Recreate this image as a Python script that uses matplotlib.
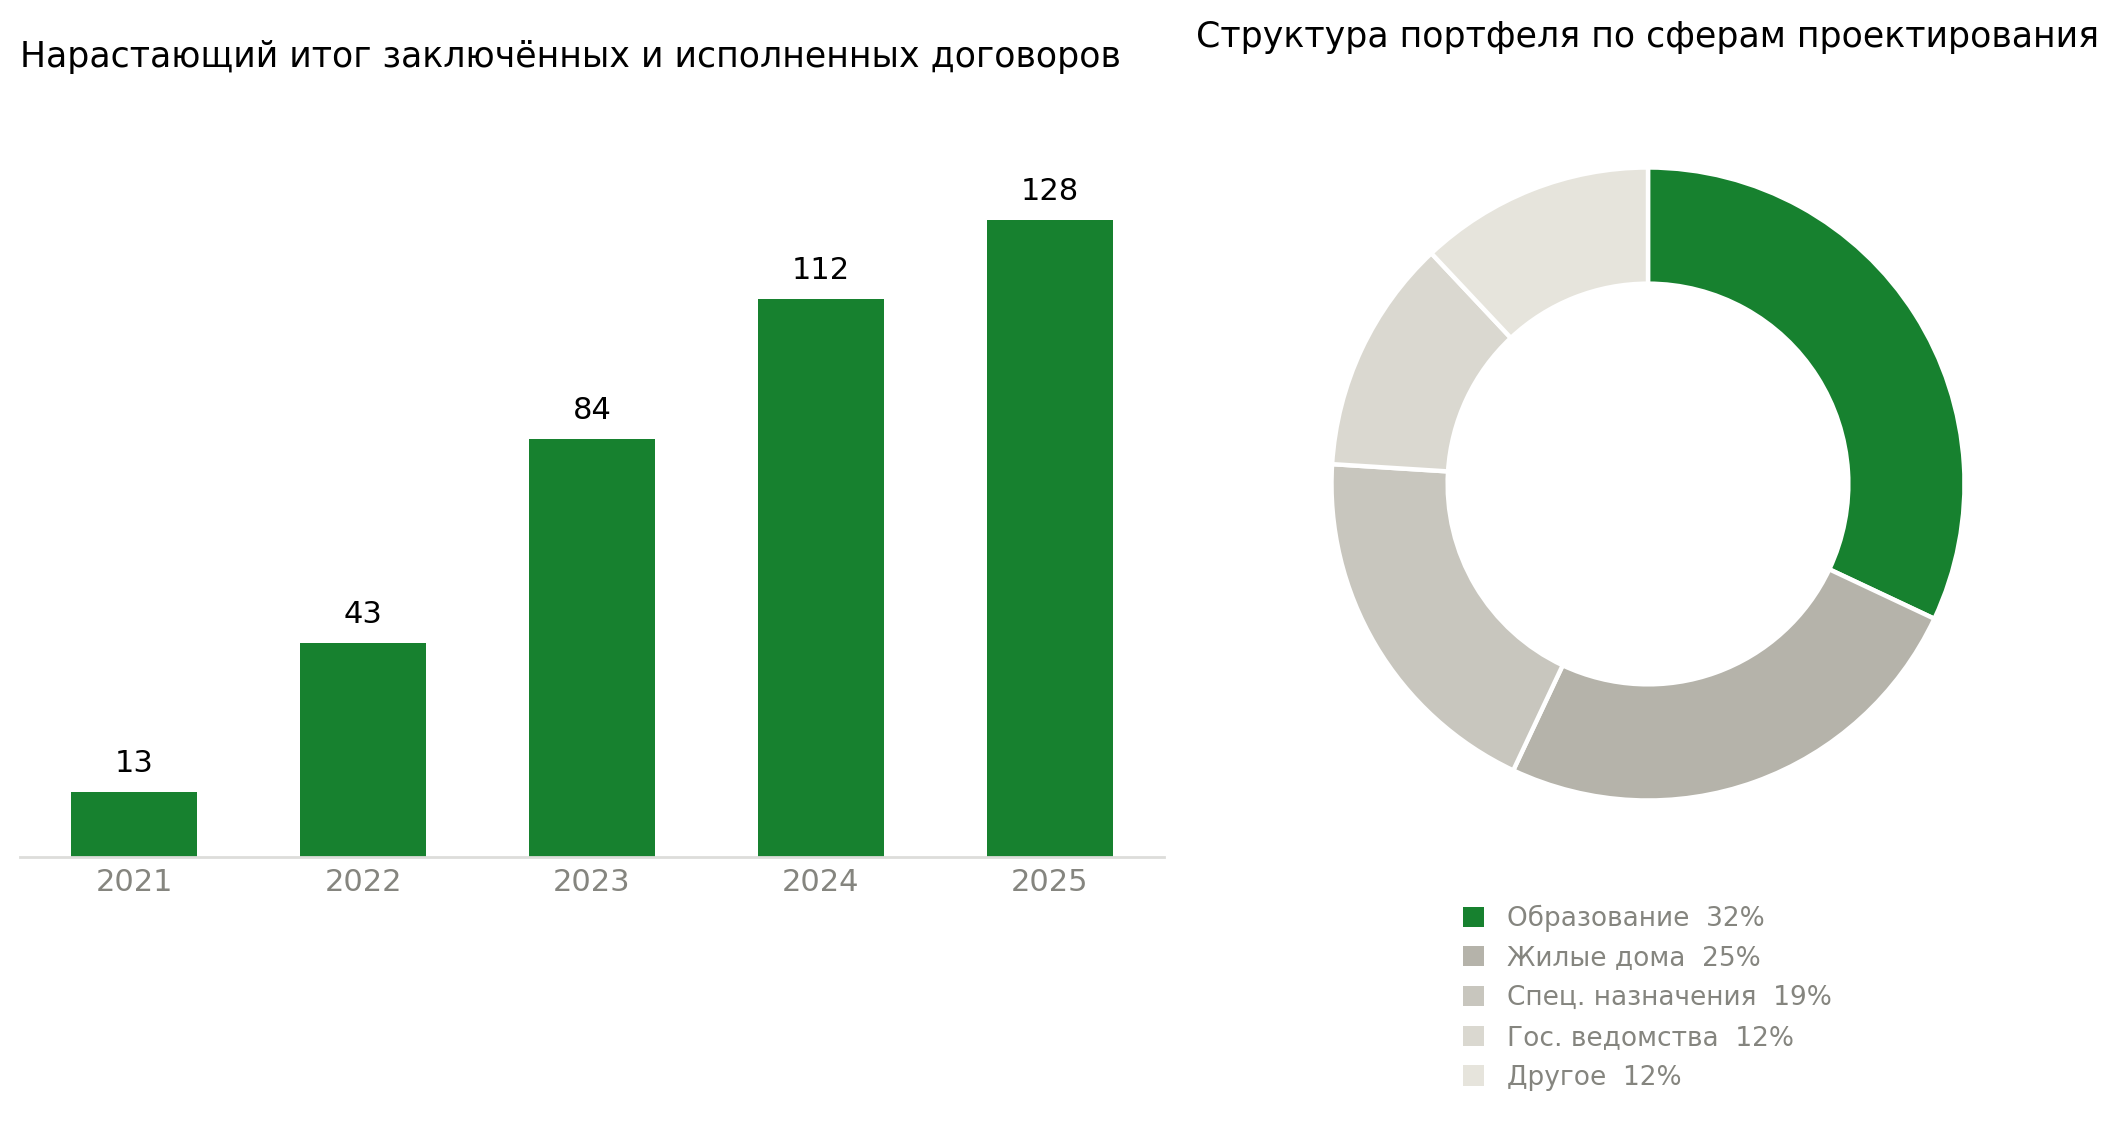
import matplotlib
matplotlib.use("Agg")
import matplotlib.pyplot as plt
from matplotlib.patches import Patch

plt.rcParams['font.family'] = ['DejaVu Sans']

years = ["2021", "2022", "2023", "2024", "2025"]
totals = [13, 43, 84, 112, 128]

sectors = ["Образование", "Жилые дома", "Спец. назначения", "Гос. ведомства", "Другое"]
shares = [32, 25, 19, 12, 12]

bar_title = "Нарастающий итог заключённых и исполненных договоров"
pie_title = "Структура портфеля по сферам проектирования"

green = "#17812F"
pie_colors = [green, "#B5B3AA", "#C8C6BE", "#DAD8D0", "#E6E4DC"]
gray_text = "#85857F"

W, H = 2119, 1122
fig = plt.figure(figsize=(W / 200, H / 200), dpi=200)

# Bar chart
ax = fig.add_axes([20 / W, 1 - 857 / H, (1164 - 20) / W, (857 - 124) / H])
x = list(range(len(years)))
bars = ax.bar(x, totals, width=0.55, color=green)
ax.bar_label(bars, labels=[str(v) for v in totals], padding=5, fontsize=11, color="black")
ax.set_xlim(-0.5, 4.5)
ax.set_ylim(0, 128 * 1.15)
ax.set_xticks(x)
ax.set_xticklabels(years)
ax.tick_params(axis="x", length=0, pad=4, labelsize=11, labelcolor=gray_text)
ax.set_yticks([])
for s in ["top", "right", "left"]:
    ax.spines[s].set_visible(False)
ax.spines["bottom"].set_color("#DDDDDA")
ax.spines["bottom"].set_linewidth(1.0)
fig.text(20 / W, 1 - 57 / H, bar_title, ha="left", va="center", fontsize=12.5, color="black")

# Donut chart
cx, cy, r = 1648, 484, 316.5
lim = 1.03
size = 2 * r * lim
pax = fig.add_axes([(cx - size / 2) / W, 1 - (cy + size / 2) / H, size / W, size / H])
pax.pie(shares, colors=pie_colors, startangle=90, counterclock=False, radius=1.0,
        wedgeprops=dict(width=0.367, edgecolor="white", linewidth=1.6))
pax.set_xlim(-lim, lim)
pax.set_ylim(-lim, lim)
pax.set_aspect("equal")
pax.axis("off")
fig.text(cx / W, 1 - 37 / H, pie_title, ha="center", va="center", fontsize=12.5, color="black")

handles = [Patch(facecolor=c, edgecolor="none") for c in pie_colors]
labels = [f"{n}  {p}%" for n, p in zip(sectors, shares)]
leg = fig.legend(handles, labels, loc="upper left", bbox_to_anchor=(1452 / W, 1 - 894 / H),
                 frameon=False, fontsize=9.5, labelcolor=gray_text, handlelength=0.8,
                 handleheight=0.8, handletextpad=0.9, labelspacing=0.52, borderaxespad=0)

fig.savefig("out.png", dpi=200, facecolor="white")
